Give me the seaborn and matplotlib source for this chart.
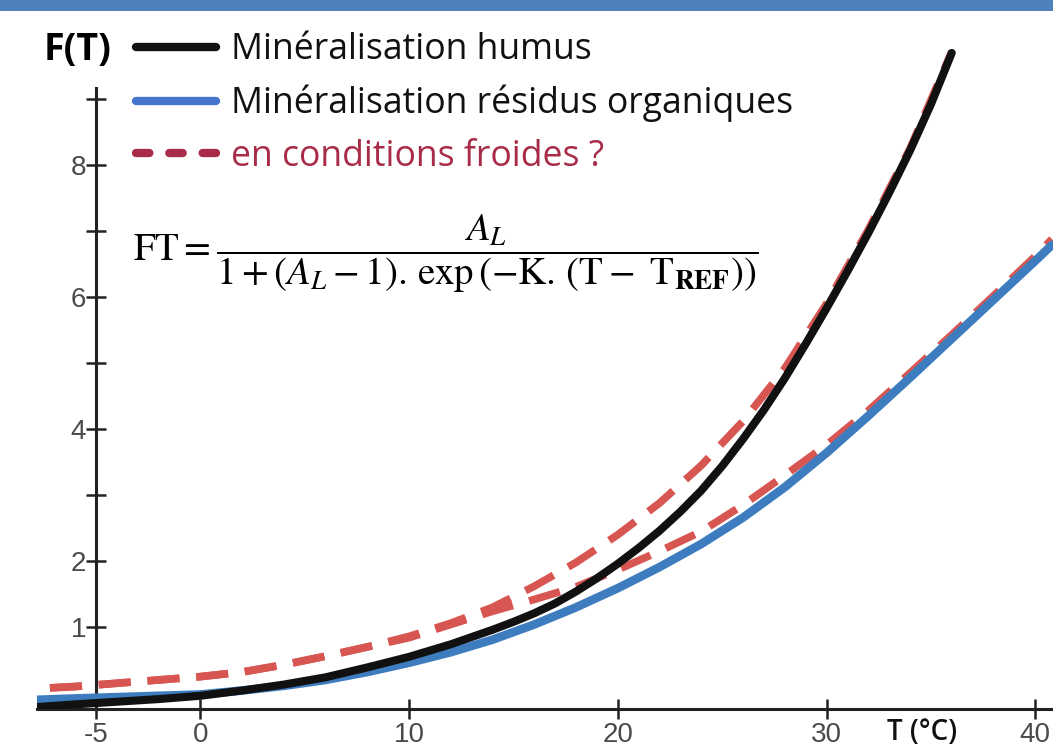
import matplotlib
matplotlib.use("Agg")
import matplotlib.pyplot as plt
from matplotlib.lines import Line2D
from matplotlib.patches import Rectangle
import seaborn as sns

t_humus = [-7.8, -6, -4, -2, 0, 2, 4, 6, 8, 10, 12, 14, 15, 16, 17, 18, 19, 20,
           21, 22, 23, 24, 25, 26, 27, 28, 29, 30, 31, 32, 33, 34, 35, 36]
f_humus = [-0.21, -0.17, -0.13, -0.09, -0.04, 0.04, 0.13, 0.24, 0.39, 0.55, 0.74,
           0.96, 1.08, 1.21, 1.36, 1.54, 1.74, 1.96, 2.20, 2.46, 2.75, 3.07, 3.44,
           3.85, 4.29, 4.77, 5.29, 5.83, 6.39, 6.97, 7.58, 8.22, 8.92, 9.70]

t_res = [-7.8, -6, -4, -2, 0, 2, 4, 6, 8, 10, 12, 14, 16, 18, 20, 22, 24, 26, 28,
         30, 32, 34, 36, 38, 40, 40.8]
f_residus = [-0.10, -0.08, -0.06, -0.04, -0.02, 0.04, 0.11, 0.20, 0.32, 0.46, 0.62,
             0.81, 1.04, 1.30, 1.59, 1.91, 2.26, 2.66, 3.12, 3.64, 4.20, 4.78, 5.37,
             5.96, 6.55, 6.79]

t_humus_froid = [-7.2, -6, -4, -2, 0, 2, 4, 6, 8, 10, 12, 14, 16, 18, 20, 22, 24,
                 26, 28, 30, 32, 34, 36]
f_humus_froid = [0.08, 0.10, 0.15, 0.20, 0.25, 0.32, 0.43, 0.56, 0.70, 0.86, 1.06,
                 1.30, 1.62, 1.98, 2.40, 2.88, 3.45, 4.12, 4.92, 5.90, 7.02, 8.25,
                 9.72]
t_res_froid = [-7.2, -6, -4, -2, 0, 2, 4, 6, 8, 10, 12, 14, 16, 18, 20, 22, 24, 26,
               28, 30, 32, 34, 36, 38, 40, 40.8]
f_residus_froid = [0.08, 0.10, 0.15, 0.20, 0.25, 0.32, 0.43, 0.56, 0.70, 0.84, 1.04,
                   1.24, 1.42, 1.61, 1.87, 2.15, 2.45, 2.85, 3.30, 3.76, 4.28, 4.85,
                   5.43, 6.02, 6.62, 6.88]

x_ticks = [-5, 0, 10, 20, 30, 40]
y_ticks = [1, 2, 4, 6, 8]
y_minor = [3, 5, 7, 9]

legend_labels = ["Minéralisation humus", "Minéralisation résidus organiques",
                 "en conditions froides ?"]

BLACK = "#111111"
BLUE = "#3d7dbf"
RED = "#d85652"
LEG_BLUE = "#4575cc"
LEG_RED = "#a82c48"
SANS = ["Open Sans", "DejaVu Sans"]

sns.set_theme(style="white")
plt.rcParams["font.family"] = ["DejaVu Sans"]
plt.rcParams["mathtext.fontset"] = "stix"

fig = plt.figure(figsize=(10.53, 7.55), dpi=100)
ax = fig.add_axes([37 / 1053, 46 / 755, 1 - 37 / 1053, 697 / 755])

# cold-condition curves first, so the main curves sit on top
for t, f in [(t_humus_froid, f_humus_froid), (t_res_froid, f_residus_froid)]:
    sns.lineplot(x=t, y=f, ax=ax, color=RED, linewidth=5.5, sort=False,
                 legend=False, zorder=2)
    ax.lines[-1].set_dashes((4.2, 2.2))

sns.lineplot(x=t_res, y=f_residus, ax=ax, color=BLUE, linewidth=6.2,
             sort=False, legend=False, zorder=3)
sns.lineplot(x=t_humus, y=f_humus, ax=ax, color=BLACK, linewidth=5.8,
             sort=False, legend=False, zorder=4)
for ln in ax.lines:
    ln.set_solid_joinstyle("round")

ax.set_xlim(-7.82, 40.85)
ax.set_ylim(-0.24, 10.32)
ax.set_xlabel("")
ax.set_ylabel("")

for side in ["top", "right"]:
    ax.spines[side].set_visible(False)
ax.spines["left"].set_position(("data", -5))
ax.spines["left"].set_bounds(-0.24, 9.17)
for side in ["left", "bottom"]:
    ax.spines[side].set_color("#222222")
    ax.spines[side].set_linewidth(2.2)

ax.set_xticks(x_ticks)
ax.set_xticklabels([str(v) for v in x_ticks])
ax.set_yticks(y_ticks)
ax.set_yticklabels([str(v) for v in y_ticks])
ax.set_yticks(y_minor, minor=True)
ax.tick_params(axis="both", which="both", direction="inout", length=14,
               width=1.8, color="#222222", labelsize=20, labelcolor="#4a4a4a",
               bottom=True, left=True)
ax.tick_params(axis="x", pad=2)
ax.tick_params(axis="y", pad=0)
for lab in ax.get_xticklabels() + ax.get_yticklabels():
    lab.set_family(["Liberation Sans", "DejaVu Sans"])

# blue band along the top edge
fig.patches.append(Rectangle((0, 1 - 11 / 755), 1, 11 / 755, transform=fig.transFigure,
                             facecolor="#4f81bd", edgecolor="none", zorder=10))

fig.text(44 / 1053, 1 - 50 / 755, "F(T)", fontsize=27, fontweight="bold",
         color="black", va="center", ha="left", family=SANS)
fig.text(887 / 1053, 1 - 733 / 755, "T (°C)", fontsize=20, fontweight="semibold",
         color="#111111", va="center", ha="left", family=SANS)

handles = [
    Line2D([], [], color=BLACK, linewidth=6, solid_capstyle="round"),
    Line2D([], [], color=LEG_BLUE, linewidth=6, solid_capstyle="round"),
    Line2D([], [], color=LEG_RED, linewidth=6, dashes=(1.6, 2.4),
           dash_capstyle="round"),
]
leg = fig.legend(handles, legend_labels, loc="upper left",
                 bbox_to_anchor=(136 / 1053, 1 - 32 / 755), frameon=False,
                 handlelength=2.25, handletextpad=0.42,
                 labelspacing=0.47, borderpad=0, borderaxespad=0,
                 prop={"family": SANS, "size": 25.6})
for txt, col in zip(leg.get_texts(), ["#111111", "#111111", LEG_RED]):
    txt.set_color(col)

formula = (r"$\mathrm{FT} = \dfrac{A_L}{1 + (A_L - 1).\,\exp\left(-\mathrm{K}.\,"
           r"(\mathrm{T} -\ \mathrm{T}_{\mathbf{REF}})\right)}$")
fig.text(133 / 1053, 1 - 254 / 755, formula, fontsize=28, color="black",
         va="center", ha="left")

fig.savefig("out.png", dpi=100)
plt.close(fig)
